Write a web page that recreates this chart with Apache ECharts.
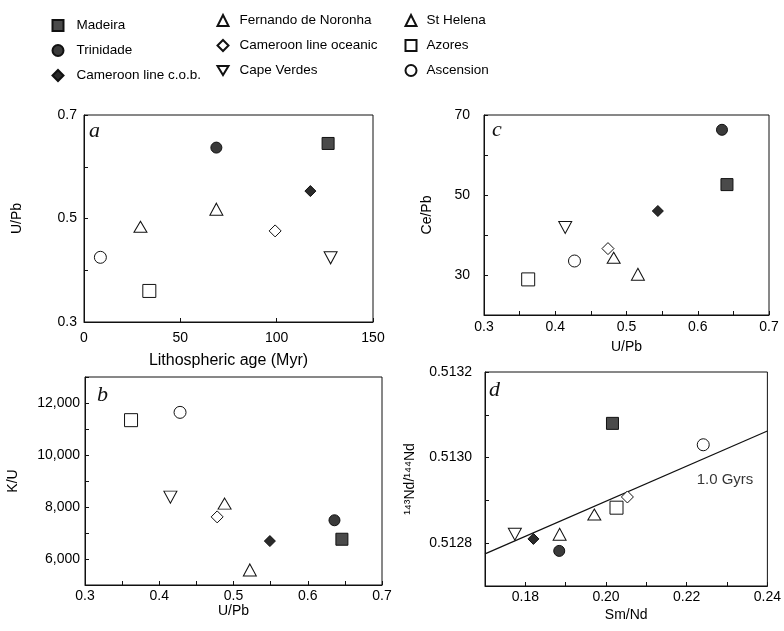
<!DOCTYPE html>
<html>
<head>
<meta charset="utf-8">
<script src="https://cdn.jsdelivr.net/npm/echarts@6/dist/echarts.min.js"></script>
<style>
html,body{margin:0;padding:0;background:#fff;}
#chart{width:784px;height:631px;}
</style>
</head>
<body>
<div id="chart"></div>
<script>
// ---- data ----
const sites = ['Madeira', 'Trinidade', 'Cameroon line c.o.b.', 'Fernando de Noronha', 'Cameroon line oceanic', 'Cape Verdes', 'St Helena', 'Azores', 'Ascension'];
// panel a: lithospheric age (Myr) vs U/Pb
const aAge  = [126.7, 68.7, 117.5, 68.7, 99.2, 128.0, 29.3, 33.9, 8.5];
const aUPb  = [0.645, 0.637, 0.553, 0.518, 0.476, 0.424, 0.484, 0.360, 0.425];
// panel c: U/Pb vs Ce/Pb
const cUPb  = [0.641, 0.634, 0.544, 0.516, 0.474, 0.414, 0.482, 0.362, 0.427];
const cCePb = [52.6, 66.3, 46.0, 30.2, 36.6, 41.9, 34.3, 28.9, 33.5];
// panel b: U/Pb vs K/U
const bUPb  = [0.646, 0.636, 0.549, 0.522, 0.478, 0.415, 0.488, 0.362, 0.428];
const bKU   = [6760, 7490, 6690, 5580, 7620, 8380, 8130, 11340, 11640];
// panel d: Sm/Nd vs 143Nd/144Nd
const dSmNd = [0.2016, 0.1884, 0.1820, 0.1885, 0.2053, 0.1774, 0.1971, 0.2026, 0.2241];
const dNd   = [0.51308, 0.512782, 0.51281, 0.512821, 0.512908, 0.512821, 0.512867, 0.512883, 0.51303];
// 1.0 Gyr reference isochron
const isoSmNd = [0.17, 0.24];
const isoNd   = [0.512775, 0.513062];
const isoLabel = '1.0 Gyrs';
const isoLabelAt = [0.2295, 0.512948];
// legend columns
const legendCols = [
  ['Madeira', 'Trinidade', 'Cameroon line c.o.b.'],
  ['Fernando de Noronha', 'Cameroon line oceanic', 'Cape Verdes'],
  ['St Helena', 'Azores', 'Ascension']
];

// ---- styles ----
const INV_TRI = 'path://M0,0L12,0L6,10Z';
const styles = {
  'Madeira':               {symbol:'rect',     size:12,      fill:'#4a4a4a'},
  'Trinidade':             {symbol:'circle',   size:11,      fill:'#3a3a3a'},
  'Cameroon line c.o.b.':  {symbol:'diamond',  size:11,      fill:'#2a2a2a'},
  'Fernando de Noronha':   {symbol:'triangle', size:[13,12], fill:'#ffffff'},
  'Cameroon line oceanic': {symbol:'diamond',  size:12,      fill:'#ffffff'},
  'Cape Verdes':           {symbol:INV_TRI,    size:[13,12], fill:'#ffffff'},
  'St Helena':             {symbol:'triangle', size:[13,11], fill:'#ffffff'},
  'Azores':                {symbol:'rect',     size:13,      fill:'#ffffff'},
  'Ascension':             {symbol:'circle',   size:12,      fill:'#ffffff'}
};

const FONT = '"Liberation Sans", Arial, Helvetica, sans-serif';

const grids = [
  {left:84,  top:115, width:289, height:207}, // a
  {left:484, top:115, width:285, height:200}, // c
  {left:85,  top:377, width:297, height:208}, // b
  {left:485, top:372, width:285, height:214}  // d
].map(g => Object.assign({show:true, borderColor:'#111', borderWidth:1, backgroundColor:'transparent'}, g));

function axisBase(extra){
  return Object.assign({
    type:'value', scale:false,
    axisLine:{show:true, onZero:false, lineStyle:{color:'#111', width:1}},
    axisTick:{show:true, inside:true, length:4, lineStyle:{color:'#111'}},
    splitLine:{show:false},
    axisLabel:{color:'#000', fontSize:14, fontFamily:FONT},
    nameTextStyle:{color:'#000', fontSize:14, fontFamily:FONT},
    nameLocation:'middle'
  }, extra);
}
function mergeLabel(ax, lab){ ax.axisLabel = Object.assign({}, ax.axisLabel, lab); return ax; }

const xAxes = [
  mergeLabel(axisBase({gridIndex:0, min:0, max:150, interval:50, name:'Lithospheric age (Myr)', nameGap:31,
    nameTextStyle:{color:'#000', fontSize:16, fontFamily:FONT}}), {margin:9}),
  mergeLabel(axisBase({gridIndex:1, min:0.3, max:0.7, interval:0.05, name:'U/Pb', nameGap:25}),
    {margin:5, formatter:v => Math.round(v*100)%10===0 ? v.toFixed(1) : ''}),
  mergeLabel(axisBase({gridIndex:2, min:0.3, max:0.7, interval:0.05, name:'U/Pb', nameGap:19}),
    {margin:4, formatter:v => Math.round(v*100)%10===0 ? v.toFixed(1) : ''}),
  mergeLabel(axisBase({gridIndex:3, min:0.17, max:0.24, interval:0.01, name:'Sm/Nd', nameGap:22}),
    {margin:4, formatter:v => Math.round(v*100)%2===0 ? v.toFixed(2) : ''})
];
const yAxes = [
  mergeLabel(axisBase({gridIndex:0, min:0.3, max:0.7, interval:0.1, name:'U/Pb', nameGap:60, nameRotate:90}),
    {margin:7, formatter:v => Math.round(v*10)%2===1 ? v.toFixed(1) : ''}),
  mergeLabel(axisBase({gridIndex:1, min:20, max:70, interval:10, name:'Ce/Pb', nameGap:50, nameRotate:90}),
    {margin:14, formatter:v => (Math.round(v)%20===10) ? String(Math.round(v)) : ''}),
  mergeLabel(axisBase({gridIndex:2, min:5000, max:13000, interval:1000, name:'K/U', nameGap:65, nameRotate:90}),
    {margin:5, formatter:v => (v%2000===0 && v>=6000) ? v.toLocaleString('en-US') : ''}),
  mergeLabel(axisBase({gridIndex:3, min:0.5127, max:0.5132, interval:0.0001, name:'\u00B9\u2074\u00B3Nd/\u00B9\u2074\u2074Nd', nameGap:68, nameRotate:90}),
    {margin:13, formatter:v => Math.round(v*10000)%2===0 ? v.toFixed(4) : ''})
];

const panels = [
  {xs:aAge, ys:aUPb},
  {xs:cUPb, ys:cCePb},
  {xs:bUPb, ys:bKU},
  {xs:dSmNd, ys:dNd}
];

const series = [];
panels.forEach((p, pi) => {
  sites.forEach((s, i) => {
    const st = styles[s];
    series.push({
      type:'scatter', name:s, xAxisIndex:pi, yAxisIndex:pi,
      symbol:st.symbol, symbolSize:st.size,
      itemStyle:{color:st.fill, borderColor:'#111', borderWidth:1, opacity:1},
      emphasis:{disabled:true},
      data:[[p.xs[i], p.ys[i]]],
      z:3
    });
  });
});
// isochron line
series.push({
  type:'line', name:'isochron', xAxisIndex:3, yAxisIndex:3,
  data:isoSmNd.map((x,i)=>[x, isoNd[i]]),
  showSymbol:false, symbol:'none',
  lineStyle:{color:'#111', width:1.2},
  silent:true, z:2
});
// isochron label
series.push({
  type:'scatter', name:'isoLabel', xAxisIndex:3, yAxisIndex:3,
  data:[isoLabelAt], symbolSize:0, silent:true,
  label:{show:true, position:'inside', formatter:isoLabel, color:'#000', fontSize:15, fontFamily:FONT}
});

const legendPos = [
  {left:51.5, top:18.5, pad:8},
  {left:216.5, top:13.5, pad:6},
  {left:404.5, top:13.5, pad:5}
];
const legends = legendCols.map((names, k) => ({
  data:names, orient:'vertical', left:legendPos[k].left, top:legendPos[k].top,
  padding:0, itemWidth:11, itemHeight:11, itemGap:11,
  selectedMode:false,
  textStyle:{color:'#000', fontSize:13.5, fontFamily:FONT, padding:[0,0,0,legendPos[k].pad]}
}));

const letters = [
  {t:'a', x:89,  y:131.5},
  {t:'c', x:492, y:130},
  {t:'b', x:97,  y:395.5},
  {t:'d', x:489, y:390}
].map(o => ({
  type:'text', left:o.x, top:o.y - 11,
  style:{text:o.t, font:'italic 22px "Liberation Serif", "Times New Roman", serif', fill:'#111'}
}));

const chart = echarts.init(document.getElementById('chart'), null, {renderer:'canvas'});
chart.setOption({
  animation:false,
  backgroundColor:'#ffffff',
  grid:grids,
  xAxis:xAxes,
  yAxis:yAxes,
  legend:legends,
  graphic:letters,
  series:series
});
</script>
</body>
</html>
